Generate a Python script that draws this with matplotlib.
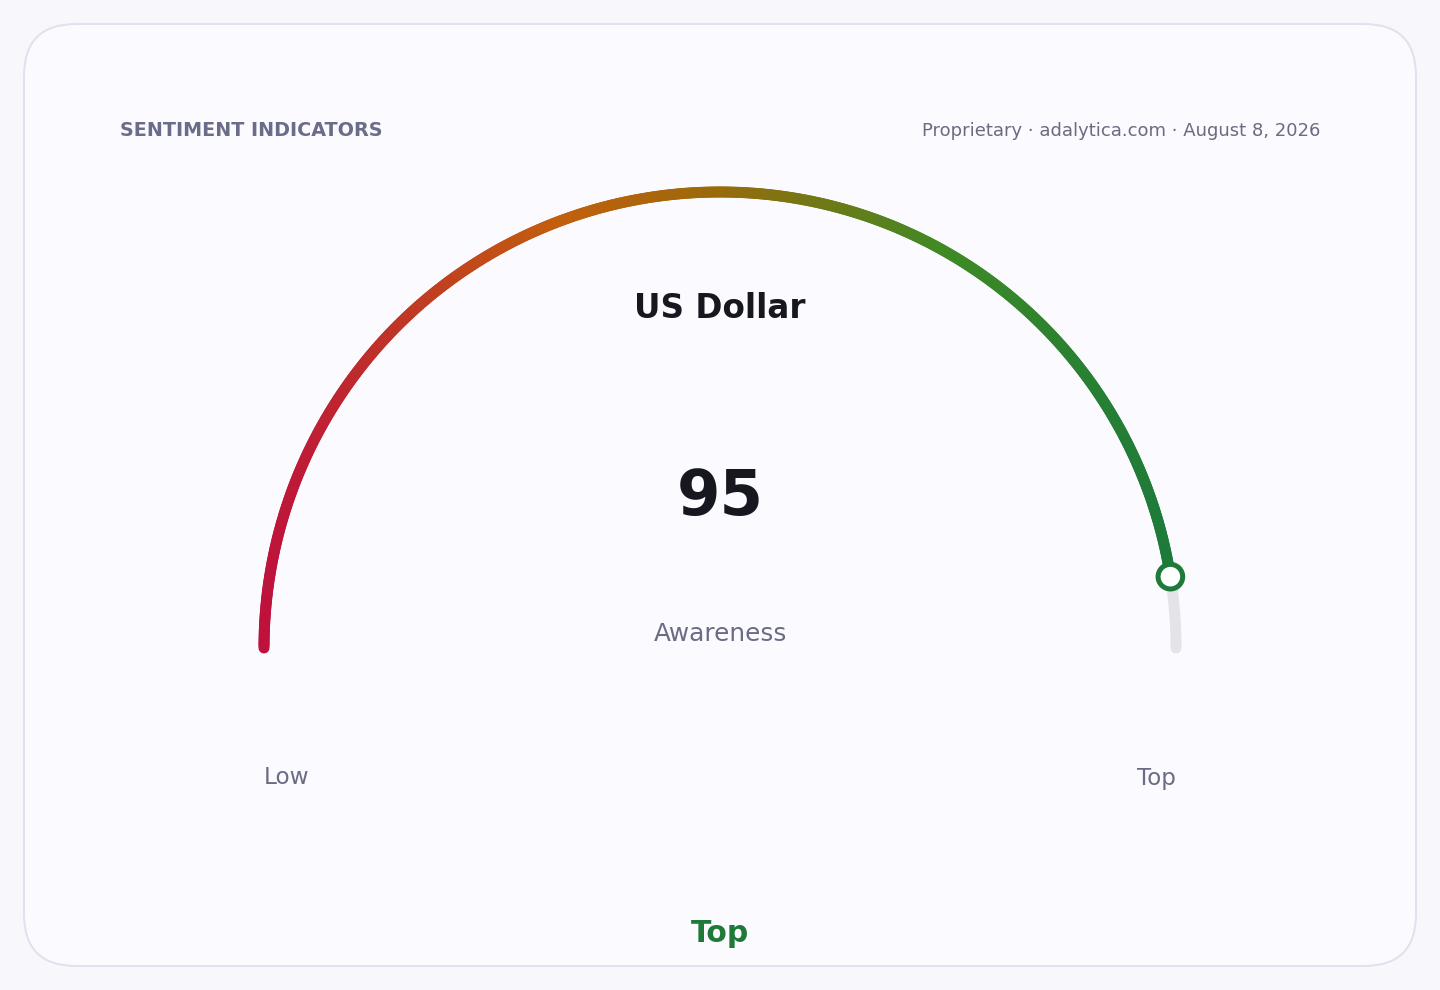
import numpy as np
import matplotlib
matplotlib.use("Agg")
import matplotlib.pyplot as plt
from matplotlib.collections import LineCollection
from matplotlib.colors import LinearSegmentedColormap
from matplotlib.patches import FancyBboxPatch, Circle

# data
title = "US Dollar"
value = 95
vmin, vmax = 0, 100
metric_label = "Awareness"
low_label = "Low"
high_label = "Top"
verdict = "Top"
header_left = "SENTIMENT INDICATORS"
header_right = "Proprietary · adalytica.com · August 8, 2026"

W, H = 1440, 990
fig = plt.figure(figsize=(W / 100, H / 100), dpi=100)
fig.patch.set_facecolor("#f7f7fc")
ax = fig.add_axes([0, 0, 1, 1])
ax.set_xlim(0, W)
ax.set_ylim(H, 0)
ax.set_aspect("equal")
ax.axis("off")

PX = 72 / 100  # points per pixel

card = FancyBboxPatch((24, 24), 1392, 942, boxstyle="round,pad=0,rounding_size=52",
                      facecolor="#fafaff", edgecolor="#e1e1ef", linewidth=2 * PX)
ax.add_patch(card)

cx, cy, r = 720, 648, 456
lw = 11 * PX

cmap = LinearSegmentedColormap.from_list(
    "g", [(0.0, "#be123c"), (0.33, "#c2600c"), (0.5, "#9a6a0a"),
          (0.75, "#3f8a25"), (1.0, "#1c7a3a")])

frac = (value - vmin) / (vmax - vmin)

# track
t_track = np.linspace(np.pi * (1 - frac), 0, 40)
ax.plot(cx + r * np.cos(t_track), cy - r * np.sin(t_track), color="#e3e3e8",
        lw=lw, solid_capstyle="round", zorder=2)

# gradient arc (horizontal linear gradient)
n = 500
fr = np.linspace(0, frac, n + 1)
th = np.pi * (1 - fr)
xs = cx + r * np.cos(th)
ys = cy - r * np.sin(th)
pts = np.column_stack([xs, ys])
segs = np.stack([pts[:-1], pts[1:]], axis=1)
xmid = (xs[:-1] + xs[1:]) / 2
cols = cmap((xmid - (cx - r)) / (2 * r))
lc = LineCollection(segs, colors=cols, linewidths=lw, capstyle="round",
                    joinstyle="round", zorder=3)
ax.add_collection(lc)

# marker
mth = np.pi * (1 - frac)
ax.add_patch(Circle((cx + r * np.cos(mth), cy - r * np.sin(mth)), 12.3,
                    facecolor="white", edgecolor="#1f7a3a", linewidth=5 * PX, zorder=5))

ax.text(120, 130, header_left, fontsize=13.8, fontweight="bold", color="#6b6b8a",
        ha="left", va="center")
ax.text(1320, 131, header_right, fontsize=13, color="#6b6b80", ha="right", va="center")

ax.text(720, 309, title, fontsize=23.5, fontweight="bold", color="#17171f",
        ha="center", va="center")
ax.text(720, 498, f"{value}", fontsize=45, fontweight="bold", color="#17171f",
        ha="center", va="center")
ax.text(720, 634, metric_label, fontsize=17.8, color="#6b6b85", ha="center", va="center")

ax.text(264, 778, low_label, fontsize=16.7, color="#6b6b85", ha="left", va="center")
ax.text(1176, 778, high_label, fontsize=16.5, color="#6b6b85", ha="right", va="center")

ax.text(720, 933, verdict, fontsize=21.5, fontweight="bold", color="#1f7a3a",
        ha="center", va="center")

fig.savefig("out.png", dpi=100, facecolor=fig.get_facecolor())
